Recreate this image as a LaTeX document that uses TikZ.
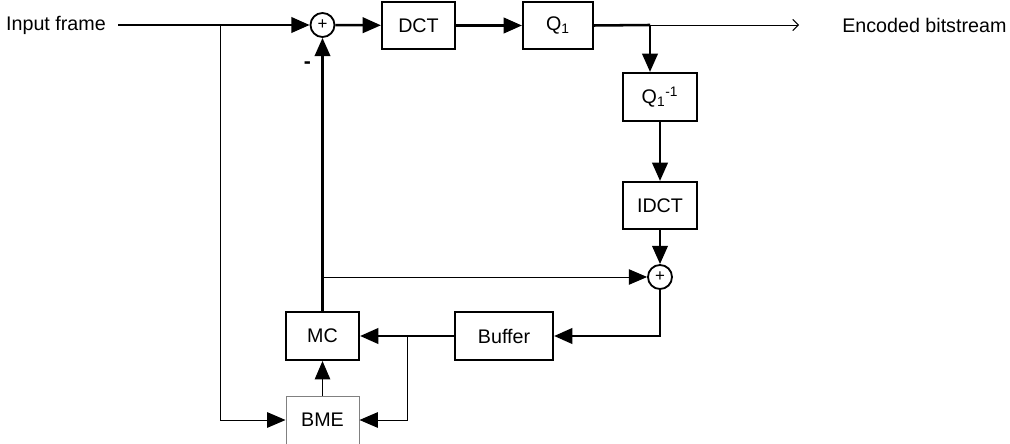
\documentclass[tikz,border=0pt]{standalone}
\usepackage{fontspec}
\setmainfont{Liberation Sans}
\usetikzlibrary{arrows.meta}
\tikzset{
  block/.style={draw, rectangle, line width=1.5pt, minimum width=1.825cm, minimum height=1.175cm, inner sep=0pt},
  summer/.style={draw, circle, line width=1.3pt, minimum size=0.6cm, inner sep=0pt, font=\fontsize{12}{12}\selectfont},
  sig/.style={line width=1.8pt, -{Triangle[length=13pt,width=11pt]}},
  ctl/.style={line width=0.7pt, -{Triangle[length=13pt,width=11pt]}},
}
\begin{document}
\begin{tikzpicture}[x=0.025cm, y=-0.025cm, font=\fontsize{14}{16}\selectfont]
    \useasboundingbox (0,0) rectangle (1010,444);
    \node[anchor=east, inner sep=0pt] (input) at (106,25) {Input frame};
    \node[summer] (sum1) at (322.5,25) {+};
    \node[block] (dct) at (418.5,25.5) {DCT};
    \node[block, minimum width=1.75cm] (q1) at (558,25.5) {Q\textsubscript{1}};
    \node[block, minimum width=1.85cm, minimum height=1.2cm] (q1inv) at (660,97) {Q\textsubscript{1}\textsuperscript{-1}};
    \node[block, minimum width=1.85cm] (idct) at (660,205.5) {IDCT};
    \node[summer] (sum2) at (660,277) {+};
    \node[block, minimum width=2.45cm, minimum height=1.2cm] (buffer) at (504,336) {Buffer};
    \node[block, minimum height=1.2cm] (mc) at (322.5,336) {MC};
    \node[block, minimum height=1.2cm, draw=gray, line width=0.7pt] (bme) at (322.5,420) {BME};
    \node[anchor=west, inner sep=0pt] (encoded) at (842,25) {Encoded bitstream};

    \coordinate (b1) at (220,25);
    \coordinate (b2) at (650,25);
    \coordinate (b3) at (407,336);
    \coordinate (b4) at (322.5,277);
    \coordinate (out) at (799,25);

    \draw[sig] (input.east) ++(12,0) -- (sum1.west);
    \draw[sig] (sum1) -- (dct);
    \draw[sig] (dct) -- (q1);
    \draw[line width=1.8pt] (q1.east) -- (b2);
    \draw[line width=0.7pt, -{Straight Barb[length=4pt,width=8pt]}] (b2) -- (out);
    \draw[sig] (b2) -- (q1inv.north -| b2);
    \draw[sig] (q1inv) -- (idct);
    \draw[sig] (idct) -- (sum2);
    \draw[sig] (sum2.south) |- (buffer.east);
    \draw[sig] (buffer) -- (mc);
    \draw[sig] (mc.north) -- (sum1.south) node[pos=0.9, left=4pt, font=\fontsize{15}{15}\selectfont\bfseries] {-};
    \draw[ctl] (b4) -- (sum2.west);
    \draw[ctl] (b1) |- (bme.west);
    \draw[ctl] (b3) |- (bme.east);
    \draw[ctl] (bme) -- (mc);
\end{tikzpicture}
\end{document}
